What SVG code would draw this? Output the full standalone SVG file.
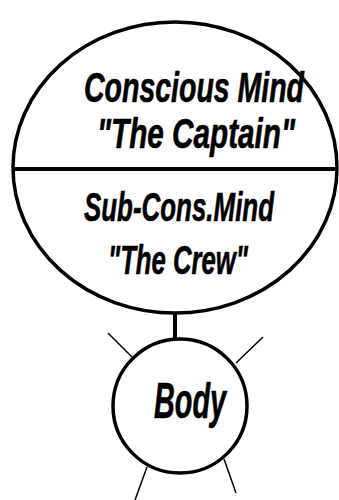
<svg xmlns="http://www.w3.org/2000/svg" width="339" height="500" viewBox="0 0 339 500">
<style>
.s{fill:#fff;stroke:#000;stroke-width:3.5}
.r{stroke:#000;stroke-width:1.5}
.t{font-family:"Liberation Sans",Arial,sans-serif;font-weight:bold;font-style:italic;fill:#000;stroke:#000;stroke-width:0.6}
</style>
<rect width="339" height="500" fill="#fff"/>
<g id="connectors">
<line x1="175" y1="312" x2="175" y2="341" stroke="#000" stroke-width="4"/>
<line class="r" x1="108" y1="333" x2="132" y2="357"/>
<line class="r" x1="263" y1="337" x2="236" y2="363"/>
<line class="r" x1="147" y1="467" x2="135" y2="500"/>
<line class="r" x1="224" y1="459" x2="236" y2="493"/>
</g>
<g id="mind">
<ellipse class="s" cx="175" cy="167.5" rx="162" ry="145.5"/>
<line x1="14" y1="169" x2="336" y2="169" stroke="#000" stroke-width="4"/>
<text class="t" x="84" y="102" font-size="42" textLength="220" lengthAdjust="spacingAndGlyphs">Conscious Mind</text>
<text class="t" x="97" y="148" font-size="42" textLength="198" lengthAdjust="spacingAndGlyphs">"The Captain"</text>
<text class="t" x="84" y="221" font-size="41" textLength="190" lengthAdjust="spacingAndGlyphs">Sub-Cons.Mind</text>
<text class="t" x="108" y="274" font-size="41" textLength="140" lengthAdjust="spacingAndGlyphs">"The Crew"</text>
</g>
<g id="body">
<circle class="s" cx="180" cy="406" r="67"/>
<text class="t" x="154" y="418" font-size="50" textLength="72" lengthAdjust="spacingAndGlyphs">Body</text>
</g>
</svg>
